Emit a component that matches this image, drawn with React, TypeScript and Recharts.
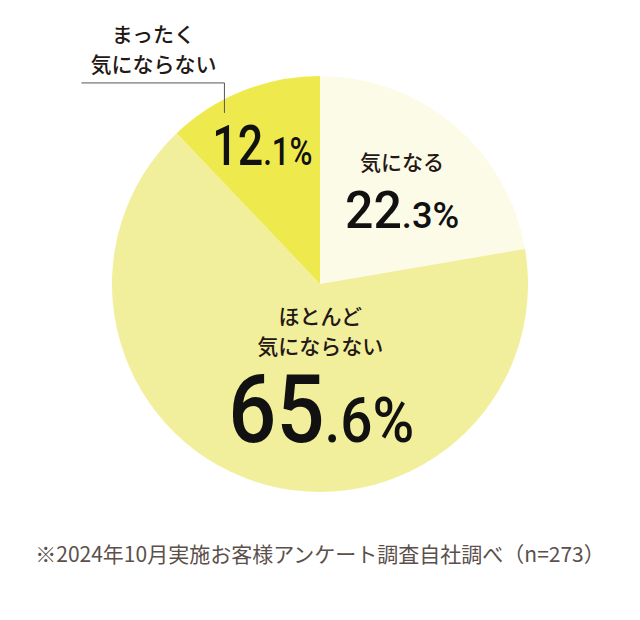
import React from 'react';
import { PieChart, Pie, Cell } from 'recharts';

const categories = ['気になる', 'ほとんど気にならない', 'まったく気にならない'];
const values = [22.3, 65.6, 12.1];
const labelLines = [['気になる'], ['ほとんど', '気にならない'], ['まったく', '気にならない']];
const colors = ['#fcfbe8', '#f2ef9c', '#eeea4e'];
const note = '※2024年10月実施お客様アンケート調査自社調べ（n=273）';

const data = categories.map((name, i) => ({ name, value: values[i] }));

const JP = "'Noto Sans CJK JP', 'Noto Sans', sans-serif";
const NUM = "Roboto, 'DejaVu Sans Condensed', sans-serif";
const RAD = Math.PI / 180;

// per slice: where the label block sits (fraction of radius, x nudge), text sizes, squeeze
const layout = [
  { r: 0.56, dx: 7, big: 51, small: 37, sx: 0.98 },
  { r: 0.5, dx: 33, big: 94, small: 63, sx: 0.9 },
  { r: 0.72, dx: -2, big: 56, small: 39, sx: 0.8 }
];

function Percent({ x, y, v, big, small, sx }: { x: number; y: number; v: number; big: number; small: number; sx: number }) {
  const [a, b] = v.toFixed(1).split('.');
  return (
    <g transform={`translate(${x},${y}) scale(${sx},1)`}>
      <text x={0} y={0} textAnchor="middle" fontFamily={NUM} fontWeight={500} fill="#111">
        <tspan fontSize={big}>{a}</tspan>
        <tspan fontSize={small}>.{b}%</tspan>
      </text>
    </g>
  );
}

function renderLabel(props: any) {
  const { cx, cy, midAngle, outerRadius, index, value } = props;
  const L = layout[index];
  const ax = cx + outerRadius * L.r * Math.cos(-midAngle * RAD) + L.dx;
  const ay = cy + outerRadius * L.r * Math.sin(-midAngle * RAD);
  const lines = labelLines[index];

  if (index === 0) {
    return (
      <g>
        <text x={ax} y={ay - 25} textAnchor="middle" fontFamily={JP} fontSize={21} fontWeight={500} fill="#231815">
          {lines[0]}
        </text>
        <Percent x={ax} y={ay + 33} v={value} big={L.big} small={L.small} sx={L.sx} />
      </g>
    );
  }
  if (index === 1) {
    return (
      <g>
        {lines.map((t, i) => (
          <text key={t} x={ax} y={ay - 59 + i * 30} textAnchor="middle" fontFamily={JP} fontSize={21} fontWeight={500} fill="#231815">
            {t}
          </text>
        ))}
        <Percent x={ax + 1} y={ay + 59} v={value} big={L.big} small={L.small} sx={L.sx} />
      </g>
    );
  }
  // small slice: label outside with a leader line
  return (
    <g>
      <polyline
        points={`${ax - 38},${ay - 32} ${ax - 38},${ay - 62} ${ax - 181},${ay - 62}`}
        fill="none"
        stroke="#555"
        strokeWidth={1}
      />
      {lines.map((t, i) => (
        <text key={t} x={ax - 109} y={ay - 103 + i * 30} textAnchor="middle" fontFamily={JP} fontSize={21} fontWeight={500} fill="#231815">
          {t}
        </text>
      ))}
      <Percent x={ax} y={ay + 20} v={value} big={L.big} small={L.small} sx={L.sx} />
    </g>
  );
}

export default function App() {
  return (
    <div style={{ position: 'absolute', left: 0, top: 0, width: 640, height: 620, background: '#fff' }}>
      <PieChart width={640} height={620} margin={{ top: 0, right: 0, bottom: 0, left: 0 }}>
        <Pie
          data={data}
          dataKey="value"
          nameKey="name"
          cx={320}
          cy={284}
          outerRadius={208}
          startAngle={90}
          endAngle={-270}
          stroke="none"
          label={renderLabel}
          labelLine={false}
          isAnimationActive={false}
        >
          {data.map((d, i) => (
            <Cell key={d.name} fill={colors[i]} />
          ))}
        </Pie>
        <text x={320} y={562} textAnchor="middle" fontFamily={JP} fontSize={21} fill="#5b504b">
          {note}
        </text>
      </PieChart>
    </div>
  );
}
